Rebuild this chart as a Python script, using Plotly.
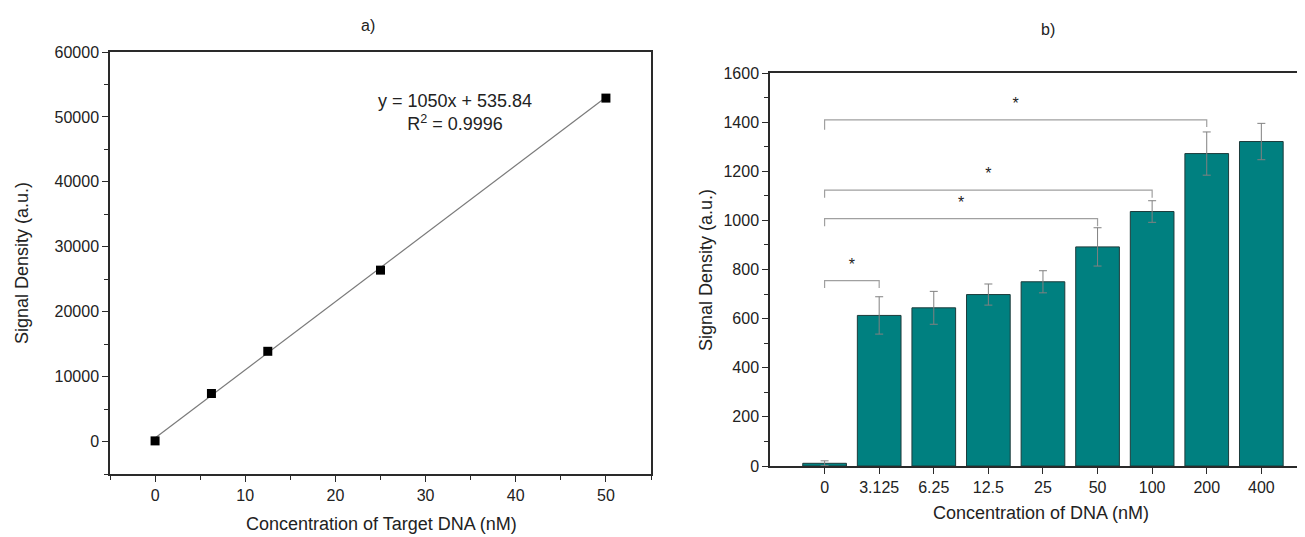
import plotly.graph_objects as go

# ---------- data: panel a ----------
conc_a = [0, 6.25, 12.5, 25, 50]
signal_a = [100, 7400, 13900, 26400, 52900]
fit_x = [0, 50]
fit_y = [535.84, 53035.84]
fit_text = "y = 1050x + 535.84<br>R<sup>2</sup> = 0.9996"

# ---------- data: panel b ----------
conc_b = ["0", "3.125", "6.25", "12.5", "25", "50", "100", "200", "400"]
signal_b = [11, 613, 644, 698, 750, 892, 1036, 1272, 1321]
err_b = [10, 76, 67, 43, 45, 78, 44, 88, 74]
br_left = ["0", "0", "0", "0"]
br_right = ["3.125", "50", "100", "200"]
br_top = [755, 1007, 1123, 1409]
br_left_low = [725, 976, 1092, 1369]
br_right_low = [725, 976, 1092, 1380]
star_y = [813, 1068, 1184, 1468]

# page body has an 8px margin, so the figure is offset by 8px
OFF = 8
W, H = 1305 - OFF, 537 - OFF
def px(x):
    return (x - OFF) / W
def py(y):
    return 1 - (y - OFF) / H

FONT = "Liberation Sans, Arial, sans-serif"
AX = "#2a2a2a"
TXT = "#222222"

fig = go.Figure()

# panel a
fig.add_trace(go.Scatter(x=fit_x, y=fit_y, mode="lines",
                         line=dict(color="#7a7a7a", width=1.2),
                         xaxis="x", yaxis="y", showlegend=False))
fig.add_trace(go.Scatter(x=conc_a, y=signal_a, mode="markers",
                         marker=dict(symbol="square", size=9, color="black"),
                         xaxis="x", yaxis="y", showlegend=False))

# panel b
xi = list(range(len(conc_b)))
fig.add_trace(go.Bar(x=xi, y=signal_b, width=0.8,
                     marker=dict(color="#008080", line=dict(color="#1c3b3b", width=1)),
                     error_y=dict(type="data", array=err_b, color="#808080",
                                  thickness=1, width=4),
                     xaxis="x2", yaxis="y2", showlegend=False))

for l, r, t, ll, rl, s in zip(br_left, br_right, br_top, br_left_low, br_right_low, star_y):
    a = conc_b.index(l)
    b = conc_b.index(r)
    fig.add_trace(go.Scatter(x=[a, a, b, b], y=[ll, t, t, rl], mode="lines",
                             line=dict(color="#a0a0a0", width=1.2),
                             xaxis="x2", yaxis="y2", showlegend=False,
                             hoverinfo="skip"))
    fig.add_trace(go.Scatter(x=[(a + b) / 2], y=[s], mode="text", text=["*"],
                             textfont=dict(size=16, color=TXT, family=FONT),
                             xaxis="x2", yaxis="y2", showlegend=False))

common = dict(showline=True, linecolor=AX, linewidth=1.5, mirror=True,
              ticks="outside", ticklen=6, tickwidth=1.3, tickcolor=AX,
              showgrid=False, zeroline=False, automargin=False,
              tickfont=dict(size=16, color=TXT, family=FONT))

def ann(text, x, y, size, angle=0):
    return dict(text=text, x=px(x), y=py(y), xref="paper", yref="paper",
                xanchor="center", yanchor="middle", showarrow=False,
                textangle=angle, font=dict(size=size, color=TXT, family=FONT))

fig.update_layout(
    width=W, height=H,
    margin=dict(l=0, r=0, t=0, b=0, pad=0, autoexpand=False),
    paper_bgcolor="white", plot_bgcolor="white",
    font=dict(family=FONT, color=TXT),
    xaxis=dict(domain=[px(110), px(651)], range=[-5, 55], dtick=10, tick0=0,
               minor=dict(dtick=5, tick0=0, ticks="outside", ticklen=4, tickcolor=AX),
               anchor="y", **common),
    yaxis=dict(domain=[py(474), py(52)], range=[-5000, 60000], dtick=10000, tick0=0,
               tickformat="d",
               minor=dict(dtick=5000, tick0=0, ticks="outside", ticklen=4, tickcolor=AX),
               anchor="x", **common),
    xaxis2=dict(domain=[px(770), 1.0], range=[-1, 8.8],
                tickmode="array", tickvals=xi, ticktext=conc_b,
                anchor="y2", **common),
    yaxis2=dict(domain=[py(466), py(73)], range=[0, 1600], dtick=200, tick0=0,
                tickformat="d",
                minor=dict(dtick=100, tick0=0, ticks="outside", ticklen=4, tickcolor=AX),
                anchor="x2", **common),
    bargap=0.2,
    annotations=[
        ann("a)", 368, 26, 16),
        ann("b)", 1048, 30, 16),
        ann(fit_text, 455, 112, 18),
        ann("Signal Density (a.u.)", 22, 263, 18, -90),
        ann("Concentration of Target DNA (nM)", 381, 524, 18),
        ann("Signal Density (a.u.)", 706, 270, 18, -90),
        ann("Concentration of DNA (nM)", 1041, 513, 18),
    ],
)

fig.write_html("out.html")
